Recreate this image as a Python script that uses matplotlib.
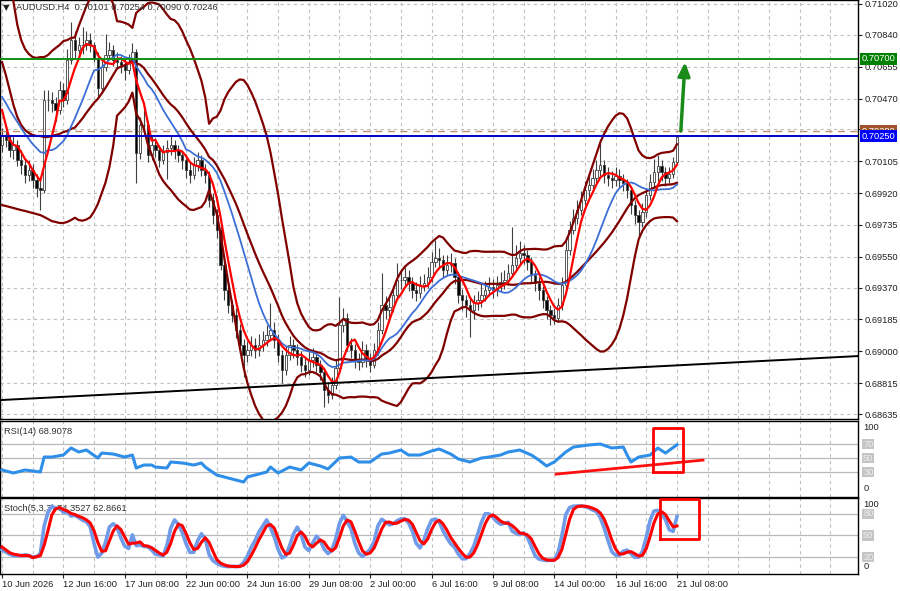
import numpy as np
import pandas as pd
import matplotlib
matplotlib.use("Agg")
import matplotlib.pyplot as plt
import matplotlib.transforms as mtransforms

plt.rcParams["font.family"] = ["Liberation Sans", "DejaVu Sans"]

# ---- data: AUDUSD H4, prices in points (1e-5) ----
first_open = 70200
closes = [
    70258, 70229, 70170, 70200, 70112, 70083, 70025, 70054, 69996, 69949,
    69938, 70461, 70461, 70444, 70403, 70519, 70461, 70694, 70810, 70752,
    70781, 70781, 70810, 70781, 70706, 70531, 70653, 70723, 70752, 70694,
    70682, 70665, 70636, 70682, 70741, 70153, 70316, 70316, 70141, 70200,
    70170, 70112, 70159, 70182, 70200, 70170, 70141, 70112, 70054, 70025,
    70083, 70112, 70054, 70025, 69880, 69792, 69705, 69501, 69356, 69269,
    69211, 69123, 69036, 68978, 69007, 69036, 69007, 69036, 69065, 69094,
    69123, 69065, 68978, 68891, 68978, 69036, 69007, 68966, 68920, 68891,
    68949, 68966, 68920, 68879, 68774, 68745, 68803, 68902, 69152, 69193,
    69036, 69007, 68949, 68937, 69007, 68949, 68920, 69007, 69123, 69269,
    69240, 69257, 69327, 69414, 69414, 69432, 69397, 69356, 69339, 69385,
    69397, 69432, 69519, 69542, 69531, 69472, 69501, 69513, 69432, 69327,
    69298, 69269, 69240, 69280, 69298, 69327, 69356, 69373, 69356, 69385,
    69403, 69414, 69455, 69501, 69542, 69571, 69560, 69519, 69443, 69397,
    69356, 69298, 69240, 69211, 69193, 69269, 69385, 69589, 69705, 69775,
    69821, 69880, 69938, 69967, 70008, 70054, 70083, 70025, 70008, 69996,
    70019, 69996, 69978, 69938, 69850, 69792, 69752, 69810, 69909, 69984,
    70040, 70080, 70040, 70010, 70030, 70101, 70246,
]
highs = [
    70300, 70310, 70260, 70250, 70230, 70170, 70120, 70110, 70090, 70030,
    70000, 70519, 70520, 70510, 70480, 70570, 70560, 70760, 70915, 70860,
    70830, 70886, 70860, 70850, 70800, 70740, 70690, 70845, 70800, 70780,
    70740, 70720, 70700, 70730, 70793, 70760, 70360, 70420, 70340, 70250,
    70240, 70200, 70200, 70230, 70260, 70230, 70200, 70170, 70150, 70100,
    70130, 70160, 70140, 70090, 70050, 69920, 69830, 69730, 69540, 69400,
    69300, 69250, 69160, 69070, 69060, 69090, 69080, 69100, 69120, 69150,
    69280, 69170, 69100, 69010, 69030, 69090, 69070, 69040, 69000, 68960,
    69000, 69020, 69000, 68950, 68900, 68820, 68850, 68950, 69315, 69250,
    69220, 69080, 69040, 68990, 69060, 69040, 68990, 69050, 69170, 69455,
    69320, 69310, 69380, 69513, 69480, 69490, 69470, 69430, 69400, 69440,
    69450, 69490, 69580, 69647, 69600, 69560, 69560, 69570, 69540, 69460,
    69360, 69330, 69310, 69330, 69350, 69390, 69410, 69430, 69420, 69440,
    69460, 69470, 69510, 69723, 69620, 69640, 69620, 69590, 69550, 69470,
    69430, 69380, 69320, 69270, 69250, 69310, 69430, 69640, 69760, 69830,
    69880, 69930, 69990, 70020, 70060, 70110, 70229, 70110, 70070, 70050,
    70070, 70060, 70030, 70000, 69960, 69880, 69820, 69860, 69950, 70030,
    70120, 70140, 70110, 70070, 70070, 70130, 70254,
]
lows = [
    70160, 70190, 70130, 70120, 70080, 70030, 69980, 69990, 69950, 69900,
    69821, 69920, 70400, 70390, 70340, 70380, 70420, 70440, 70670, 70700,
    70720, 70730, 70750, 70740, 70680, 70479, 70510, 70630, 70700, 70660,
    70640, 70620, 70578, 70610, 70660, 69978, 70120, 70270, 70100, 70110,
    70130, 70070, 70090, 70000, 70140, 70120, 70100, 70060, 70010, 69980,
    70000, 70050, 70020, 69980, 69840, 69740, 69660, 69470, 69300, 69220,
    69170, 69080, 68990, 68850, 68940, 68970, 68960, 68970, 69000, 69030,
    69060, 69020, 68940, 68815, 68860, 68950, 68960, 68920, 68880, 68850,
    68860, 68910, 68880, 68830, 68675, 68700, 68720, 68780, 68880, 69110,
    69000, 68960, 68900, 68890, 68910, 68910, 68880, 68900, 68980, 69100,
    69190, 69200, 69230, 69300, 69360, 69380, 69350, 69310, 69290, 69310,
    69350, 69370, 69400, 69490, 69480, 69430, 69440, 69460, 69390, 69280,
    69240, 69200, 69083, 69190, 69240, 69260, 69290, 69320, 69310, 69320,
    69350, 69360, 69390, 69430, 69480, 69510, 69510, 69470, 69400, 69350,
    69300, 69250, 69190, 69152, 69160, 69170, 69240, 69360, 69560, 69680,
    69740, 69790, 69850, 69900, 69930, 69980, 70020, 69980, 69960, 69950,
    69960, 69950, 69930, 69890, 69800, 69740, 69665, 69720, 69780, 69880,
    69950, 69990, 69990, 69960, 69980, 70010, 70090,
]

# indicator values before enough bars exist on the chart
red_head = [70403, 70316, 70229, 70200]
blue_head = [70479, 70444, 70403, 70368, 70333, 70298, 70264, 70234, 70205,
             70182, 70159, 70153, 70170]
bb_mid_head = [70682, 70607, 70519, 70432, 70362, 70316, 70287, 70269, 70258, 70252,
               70252, 70246, 70246, 70252, 70258, 70264, 70275, 70281, 70293]
bb_up_head = [71514, 71369, 71200, 71031, 70898, 70810, 70758, 70729, 70711, 70706,
              70711, 70711, 70723, 70746, 70764, 70781, 70804, 70810, 70822]
bb_lo_head = [69850, 69845, 69839, 69833, 69827, 69821, 69816, 69810, 69804, 69798,
              69792, 69781, 69769, 69757, 69752, 69746, 69746, 69752, 69763]
stoch_main_head = [30, 27, 24, 22, 22, 22, 23, 22]
stoch_sig_head = [34, 30, 26, 24, 23, 22, 22, 22]

# RSI(14)
rsi_bars = [0, 3, 6, 10, 11, 13, 16, 18, 20, 22, 25, 26, 29, 32, 34, 35, 37, 39, 40,
            43, 44, 47, 50, 52, 53, 56, 59, 63, 64, 66, 69, 70, 72, 75, 78, 80, 83,
            85, 88, 91, 93, 96, 99, 101, 104, 106, 109, 112, 114, 117, 119, 122, 125,
            127, 130, 132, 135, 138, 140, 142, 144, 147, 149, 153, 156, 159, 162, 163,
            164, 166, 169, 171, 173, 176]
rsi_vals = [32.9, 28.6, 32.9, 30.0, 51.4, 51.4, 54.3, 64.3, 58.6, 61.4, 50.0, 57.1,
            55.7, 51.4, 54.3, 35.7, 40.0, 40.0, 37.1, 35.7, 44.3, 42.9, 40.0, 42.9,
            37.1, 25.7, 21.4, 15.7, 22.9, 25.7, 30.0, 37.1, 28.6, 37.1, 32.9, 42.9,
            38.6, 34.3, 50.0, 51.4, 44.3, 44.3, 55.7, 57.1, 61.4, 54.3, 54.3, 60.0,
            62.9, 55.7, 48.6, 44.3, 50.0, 51.4, 54.3, 58.6, 61.4, 54.3, 47.1, 38.6,
            44.3, 58.6, 65.7, 68.6, 70.0, 64.3, 65.7, 54.3, 44.3, 51.4, 54.3, 64.3,
            57.1, 68.9]

price_ticks = [0.71020, 0.70840, 0.70655, 0.70470, 0.70290, 0.70105, 0.69920,
               0.69735, 0.69550, 0.69370, 0.69185, 0.69000, 0.68815, 0.68635]
date_labels = ["10 Jun 2026", "12 Jun 16:00", "17 Jun 08:00", "22 Jun 00:00",
               "24 Jun 16:00", "29 Jun 08:00", "2 Jul 00:00", "6 Jul 16:00",
               "9 Jul 08:00", "14 Jul 00:00", "16 Jul 16:00", "21 Jul 08:00"]

level_green = 0.70700
level_blue = 0.70250
level_bid = 0.70280
trend_line = [(-0.5, 0.68716), (223.2, 0.68972)]
rsi_trend = [(144.5, 27.0), (182.8, 47.0)]
arrow_from = (177.0, 0.70281)
arrow_to = (178.1, 0.70682)
rsi_box = (169.8, 177.6, 30.0, 93.0)
stoch_box = (171.6, 181.7, 45.0, 101.0)

# ---- indicators ----
c = pd.Series(closes, dtype=float)
h = pd.Series(highs, dtype=float)
l = pd.Series(lows, dtype=float)
o = pd.Series([first_open] + closes[:-1], dtype=float)
n = len(c)
x = np.arange(n)

red = c.rolling(5).mean()
red.iloc[:len(red_head)] = red_head
blue = c.rolling(14).mean()
blue.iloc[:len(blue_head)] = blue_head
mid = c.rolling(20).mean()
sd = c.rolling(20).std(ddof=0)
up = mid + 2 * sd
lo = mid - 2 * sd
mid.iloc[:19] = bb_mid_head
up.iloc[:19] = bb_up_head
lo.iloc[:19] = bb_lo_head

hh = h.rolling(5).max()
ll = l.rolling(5).min()
st_main = (c - ll).rolling(3).sum() / (hh - ll).rolling(3).sum() * 100
st_sig = st_main.rolling(3).mean()
st_main.iloc[:8] = stoch_main_head
st_sig.iloc[:8] = stoch_sig_head

S = 1e5
o, h, l, c = o / S, h / S, l / S, c / S
red, blue, mid, up, lo = red / S, blue / S, mid / S, up / S, lo / S

# ---- figure ----
fig = plt.figure(figsize=(9, 5.91), dpi=100)
W = 858 / 900
ax = fig.add_axes([0, 1 - 419 / 591, W, 419 / 591])
ax_r = fig.add_axes([0, 1 - 497 / 591, W, 76 / 591])
ax_s = fig.add_axes([0, 1 - 574 / 591, W, 76 / 591])

XMIN, XMAX = -0.52, 223.2
FS = 6.7
grid_kw = dict(color="#c0c0c0", lw=0.8, ls=(0, (3, 3)), zorder=0)
for a in (ax, ax_r, ax_s):
    a.set_xlim(XMIN, XMAX)
    for xv in range(0, 224, 8):
        a.axvline(xv, **grid_kw)
    for sp in a.spines.values():
        sp.set_color("black")
        sp.set_linewidth(1)
    a.yaxis.tick_right()
    a.tick_params(axis="y", length=3, pad=2, labelsize=FS, colors="#202020")
    a.tick_params(axis="x", length=0, labelbottom=False)

# main panel
ax.set_ylim(0.68606, 0.71043)
ax.set_yticks(price_ticks)
ax.set_yticklabels([("" if abs(p - 0.70290) < 1e-6 else f"{p:.5f}") for p in price_ticks])
for p in price_ticks:
    ax.axhline(p, **grid_kw)

up_mask = c >= o
ax.vlines(x, l, h, color="#404040", lw=0.8, zorder=2)
ax.bar(x, np.maximum((c - o).abs(), 0.000012), bottom=np.minimum(o, c), width=0.62,
       color=np.where(up_mask, "white", "black"), edgecolor="#404040", linewidth=0.6,
       zorder=3)

ax.plot(x, up, color="#800000", lw=1.6, zorder=4)
ax.plot(x, mid, color="#800000", lw=1.6, zorder=4)
ax.plot(x, lo, color="#800000", lw=1.6, zorder=4)
ax.plot(x, blue, color="#3c6fd6", lw=1.3, zorder=5)
ax.plot(x, red, color="#ff0000", lw=1.6, zorder=6)

ax.axhline(level_bid, color="#c09070", lw=1.0, ls=(0, (5, 4)), zorder=3)
ax.axhline(level_green, color="#109010", lw=1.4, zorder=6)
ax.axhline(level_blue, color="#0000c8", lw=1.4, zorder=6)
ax.plot([p[0] for p in trend_line], [p[1] for p in trend_line], color="black", lw=1.4, zorder=6)
ax.annotate("", xy=arrow_to, xytext=arrow_from,
            arrowprops=dict(arrowstyle="-|>,head_width=0.35,head_length=0.8",
                            color="#1a8a1a", lw=2.5, shrinkA=0, shrinkB=0), zorder=7)

trans = mtransforms.blended_transform_factory(ax.transAxes, ax.transData)
for val, fc, txt in [(level_bid, "#a0522d", "0.70280"), (level_green, "#008000", "0.70700"),
                     (level_blue, "#0000ff", "0.70250")]:
    ax.text(1.004, val, txt, transform=trans, fontsize=FS, color="white", va="center",
            ha="left", bbox=dict(boxstyle="square,pad=0.15", fc=fc, ec="none"),
            clip_on=False, zorder=8)

fig.text(3 / 900, 1 - 8 / 591, "\u25bc", fontsize=6, color="#202020", va="center",
         family="DejaVu Sans")
fig.text(16 / 900, 1 - 8 / 591, "AUDUSD.H4  0.70101 0.70254 0.70090 0.70246",
         fontsize=FS, color="#303030", va="center")

# RSI panel
ax_r.set_ylim(-5.7, 102.9)
ax_r.set_yticks([])
for lv in (70, 50, 30):
    ax_r.axhline(lv, color="#b8b8b8", lw=0.9, zorder=1)
ax_r.plot(rsi_bars, rsi_vals, color="#2f8fe8", lw=2.2, zorder=4)
ax_r.plot([p[0] for p in rsi_trend], [p[1] for p in rsi_trend], color="#ff1010", lw=2, zorder=5)
x0, x1, y0, y1 = rsi_box
ax_r.plot([x0, x1, x1, x0, x0], [y0, y0, y1, y1, y0], color="#ff0000", lw=2, zorder=6)
ax_r.text(0.005, 0.86, "RSI(14) 68.9078", transform=ax_r.transAxes, fontsize=FS,
          color="#303030", va="center")

# Stochastic panel
ax_s.set_ylim(-3.7, 102.3)
ax_s.set_yticks([])
for lv in (80, 50, 20):
    ax_s.axhline(lv, color="#b8b8b8", lw=0.9, zorder=1)
ax_s.plot(x, st_main, color="#6f9be8", lw=2.6, zorder=4)
ax_s.plot(x, st_sig, color="#ff0000", lw=2.2, zorder=5)
x0, x1, y0, y1 = stoch_box
ax_s.plot([x0, x1, x1, x0, x0], [y0, y0, y1, y1, y0], color="#ff0000", lw=2, zorder=6,
          clip_on=False)
ax_s.text(0.005, 0.86, "Stoch(5,3,3) 74.3527 62.8661",
          transform=ax_s.transAxes, fontsize=FS, color="#303030", va="center")

# right-hand scale labels of the two oscillator panels
for a, top, bottom, levels in [(ax_r, 100, 0, (70, 50, 30)), (ax_s, 100, 0, (80, 50, 20))]:
    tr = mtransforms.blended_transform_factory(a.transAxes, a.transData)
    a.text(1.006, top, str(top), transform=tr, fontsize=FS, color="#202020", va="top",
           clip_on=False)
    a.text(1.006, bottom, str(bottom), transform=tr, fontsize=FS, color="#202020",
           va="bottom", clip_on=False)
    for lv in levels:
        a.text(1.006, lv, str(lv), transform=tr, fontsize=FS, color="#eeeeee", va="center",
               bbox=dict(boxstyle="square,pad=0.1", fc="#c4c4c4", ec="none"), clip_on=False)

ax_s.set_xticks(np.arange(0, 177, 16))
ax_s.set_xticklabels(date_labels)
ax_s.tick_params(axis="x", length=3, labelbottom=True, labelsize=FS, colors="#202020", pad=1)
for lbl in ax_s.get_xticklabels():
    lbl.set_horizontalalignment("left")

fig.savefig("out.png", dpi=100)
